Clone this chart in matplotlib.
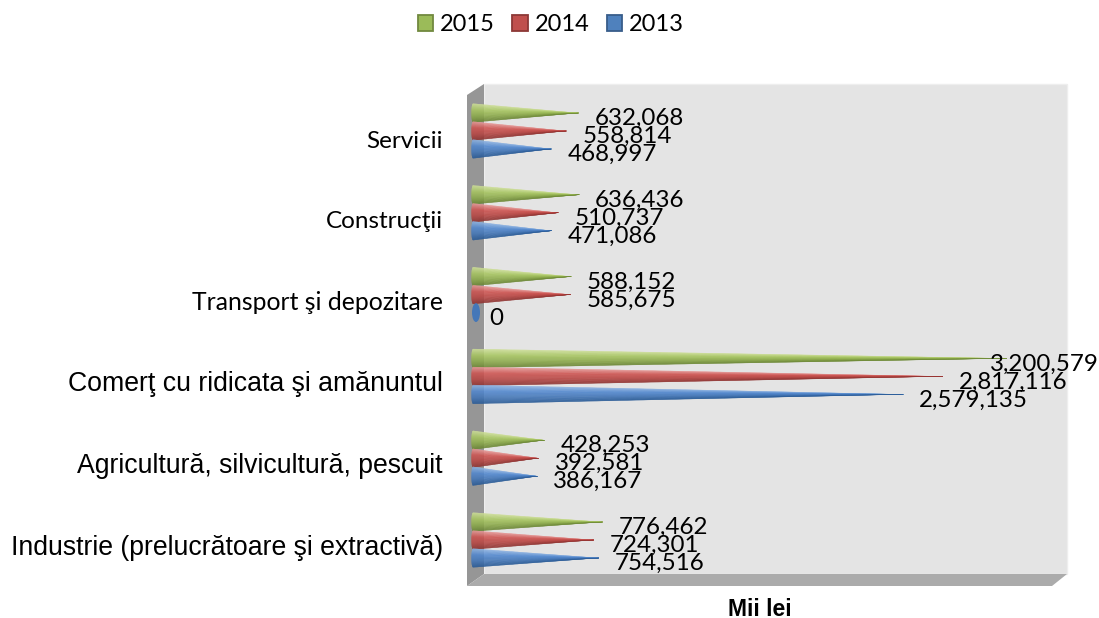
import numpy as np
import matplotlib
matplotlib.use("Agg")
import matplotlib.pyplot as plt
from matplotlib.collections import PolyCollection
from matplotlib.colors import LinearSegmentedColormap
from matplotlib.patches import Ellipse, Patch, Polygon
from matplotlib.transforms import ScaledTranslation

W, H = 1099, 618

categories = ["Industrie (prelucrătoare şi extractivă)", "Agricultură, silvicultură, pescuit",
              "Comerţ cu ridicata şi amănuntul", "Transport şi depozitare", "Construcţii", "Servicii"]
values_2015 = [776462, 428253, 3200579, 588152, 636436, 632068]
values_2014 = [724301, 392581, 2817116, 585675, 510737, 558814]
values_2013 = [754516, 386167, 2579135, 0, 471086, 468997]
years = ["2015", "2014", "2013"]

PX_PER_UNIT = 0.0001668  # horizontal scale of the plot, pixels per value
ROW = 81.8  # pixels between categories

label_fonts = [("Liberation Sans", 19.2), ("Liberation Sans", 19.2), ("Liberation Sans", 19.2),
               ("Lato", 17.8), ("Lato", 17.5), ("Lato", 17.5)]
label_shift = [5, 5, 5, 6, 7, 8]

styles = {
    "2015": (["#cfe09a", "#a9c763", "#8eac4c", "#6b8734"], "#9bbb59", "#71893f"),
    "2014": (["#e79a98", "#cf5552", "#b84744", "#8f3331"], "#c0504d", "#8c3836"),
    "2013": (["#8fb4e3", "#5389d0", "#4477b8", "#285a96"], "#4f81bd", "#385d8a"),
}


def cone(ax, value, y, color_stops, half_h=0.115, n=36):
    # fan of thin triangles from the round base to the tip, shaded across the height
    cmap = LinearSegmentedColormap.from_list("c", color_stops)
    if value == 0:
        # a zero height cone only shows its round base
        ax.add_patch(Ellipse((3 / PX_PER_UNIT, y), 8 / PX_PER_UNIT, 2 * half_h,
                             fc=color_stops[2], ec="none", zorder=3))
        return
    base_rx = 1.5 / PX_PER_UNIT
    s = np.linspace(-1, 1, n + 1)
    xs = -base_rx * np.sqrt(1 - s ** 2)
    ys = y - s * half_h
    polys, cols = [], []
    for i in range(n):
        polys.append([(xs[i], ys[i]), (xs[i + 1], ys[i + 1]), (value, y)])
        cols.append(cmap((i + 0.5) / n))
    ax.add_collection(PolyCollection(polys, facecolors=cols, edgecolors=cols, linewidths=0.12, zorder=3))


fig = plt.figure(figsize=(W / 100, H / 100), dpi=100)

# room walls, in pixels
bg = fig.add_axes([0, 0, 1, 1])
bg.set_xlim(0, W)
bg.set_ylim(H, 0)
bg.axis("off")
bg.add_patch(Polygon([(484, 84), (1067, 84), (1067, 574), (484, 574)], fc="#e4e4e4", ec="#eeeeee", lw=1))
bg.add_patch(Polygon([(467, 95), (484, 84), (484, 574), (467, 586)], fc="#969696", ec="none"))
bg.add_patch(Polygon([(467, 586), (484, 574), (1067, 574), (1052, 586)], fc="#ababab", ec="none"))

# data axes over the room
left, right, top, bottom = 467, 1067, 84, 586
ax = fig.add_axes([left / W, 1 - bottom / H, (right - left) / W, (bottom - top) / H])
ax.patch.set_alpha(0)
ax.set_xlim((left - 473) / PX_PER_UNIT, (right - 473) / PX_PER_UNIT)
ax.set_ylim(-(586 - 540) / ROW, (540 - 84) / ROW)
for sp in ax.spines.values():
    sp.set_visible(False)
ax.set_xticks([])
ax.set_yticks(range(len(categories)))
ax.set_yticklabels(categories)
ax.tick_params(axis="y", length=0, pad=17.3)
for lab, (fam, size), shift in zip(ax.get_yticklabels(), label_fonts, label_shift):
    lab.set_fontfamily([fam, "DejaVu Sans"])
    lab.set_fontsize(size)
    lab.set_color("#000000")
    lab.set_transform(lab.get_transform() + ScaledTranslation(0, -shift / 100, fig.dpi_scale_trans))

series = {"2015": values_2015, "2014": values_2014, "2013": values_2013}
offsets = {"2015": 18 / ROW, "2014": 0, "2013": -18 / ROW}
for year in years:
    stops = styles[year][0]
    for i, v in enumerate(series[year]):
        y = i + offsets[year]
        cone(ax, v, y, stops)
        dx = -17 if v > 3000000 else 16  # the largest label is pushed back inside the chart
        ax.annotate(f"{v:,}", (v, y), xytext=(dx * 0.72, -5.5 * 0.72), textcoords="offset points",
                    ha="left", va="center", fontsize=17.4, family=["Lato", "DejaVu Sans"],
                    color="#000000", zorder=5)

fig.text(760 / W, 1 - 609 / H, "Mii lei", ha="center", va="center", fontsize=16.5, fontweight="bold",
         family=["Liberation Sans"])

handles = [Patch(facecolor=styles[y][1], edgecolor=styles[y][2], linewidth=1.3, label=y) for y in years]
fig.legend(handles=handles, loc="center", bbox_to_anchor=(551 / W, 1 - 24.5 / H), ncol=3, frameon=False,
           prop={"family": "Lato", "size": 17}, handlelength=0.66, handleheight=0.66, handletextpad=0.3,
           columnspacing=0.72, borderpad=0)

fig.savefig("out.png", dpi=100)
